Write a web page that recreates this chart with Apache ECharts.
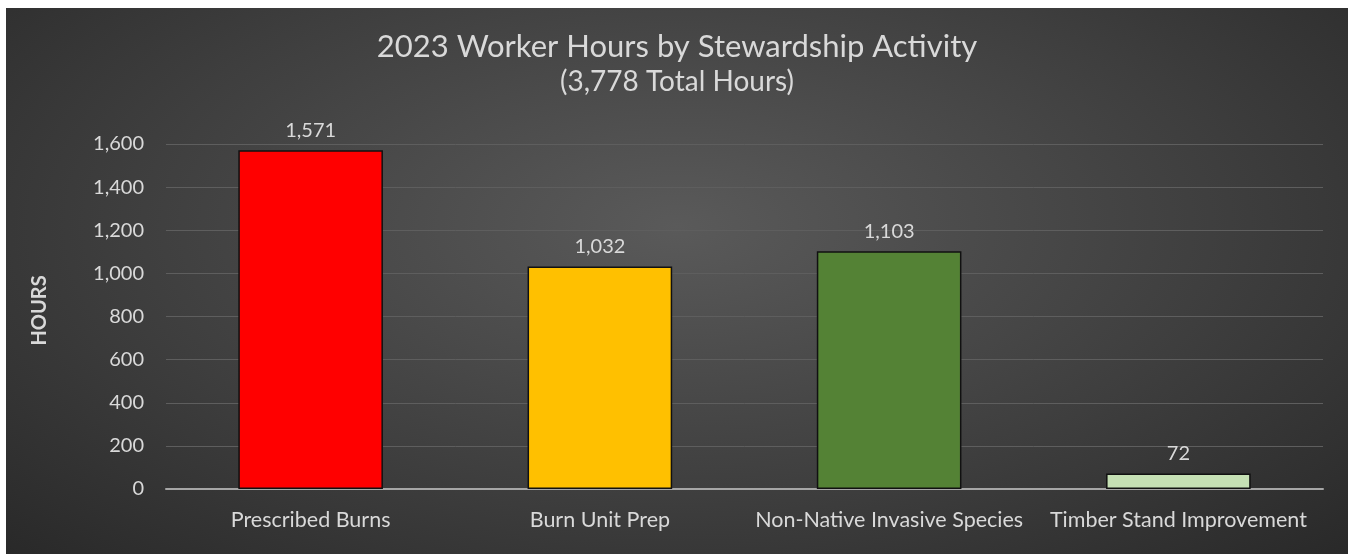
<!DOCTYPE html>
<html>
<head>
<meta charset="utf-8">
<script src="https://cdn.jsdelivr.net/npm/echarts@6/dist/echarts.min.js"></script>
<style>
  html, body { margin: 0; padding: 0; background: #ffffff; width: 1350px; height: 554px; overflow: hidden; }
  #chart {
    position: absolute; left: 6px; top: 8px; width: 1342px; height: 546px;
    background: radial-gradient(ellipse 75% 90% at 50% 40%, #5a5a5a 0%, #3e3e3e 55%, #262626 100%);
  }
</style>
</head>
<body>
<div id="chart"></div>
<script>
const titleText = '2023 Worker Hours by Stewardship Activity';
const subtitleText = '(3,778 Total Hours)';
const yAxisName = 'HOURS';
const categories = ['Prescribed Burns', 'Burn Unit Prep', 'Non-Native Invasive Species', 'Timber Stand Improvement'];
const hours = [1571, 1032, 1103, 72];
const barColors = ['#FF0000', '#FFC000', '#548235', '#C5E0B4'];

const textColor = '#d9d9d9';
const fontFamily = 'Lato, "Open Sans", sans-serif';
const fmt = v => Number(v).toLocaleString('en-US');

const chart = echarts.init(document.getElementById('chart'), null, { renderer: 'canvas' });
chart.setOption({
  backgroundColor: 'transparent',
  animation: false,
  textStyle: { fontFamily: fontFamily },
  title: [
    { text: titleText, left: 'center', top: 18,
      textStyle: { color: textColor, fontSize: 31, fontWeight: 'normal', fontFamily: fontFamily } },
    { text: subtitleText, left: 'center', top: 55,
      textStyle: { color: textColor, fontSize: 28, fontWeight: 'normal', fontFamily: fontFamily } }
  ],
  grid: { left: 160, right: 25, top: 136, bottom: 65, containLabel: false },
  xAxis: {
    type: 'category',
    data: categories,
    axisLine: { show: true, lineStyle: { color: '#a6a6a6', width: 2 } },
    axisTick: { show: false },
    axisLabel: { color: textColor, fontSize: 21.5, margin: 20, interval: 0, fontFamily: fontFamily }
  },
  yAxis: {
    type: 'value',
    min: 0, max: 1600, interval: 200,
    name: yAxisName,
    nameLocation: 'middle',
    nameGap: 116,
    nameRotate: 90,
    nameTextStyle: { color: textColor, fontSize: 20, fontWeight: 'bold', fontFamily: fontFamily, padding: [0, 0, 0, 12] },
    axisLine: { show: false },
    axisTick: { show: false },
    axisLabel: { color: textColor, fontSize: 20, margin: 22, formatter: fmt, fontFamily: fontFamily },
    splitLine: { show: true, lineStyle: { color: '#5e5e5e', width: 1 } }
  },
  series: [{
    type: 'bar',
    data: hours.map((v, i) => ({ value: v, itemStyle: { color: barColors[i] } })),
    barWidth: '50%',
    itemStyle: { borderColor: '#111111', borderWidth: 1.5 },
    label: {
      show: true, position: 'top', distance: 10,
      color: textColor, fontSize: 20, fontFamily: fontFamily,
      formatter: p => fmt(p.value)
    }
  }]
});
</script>
</body>
</html>
